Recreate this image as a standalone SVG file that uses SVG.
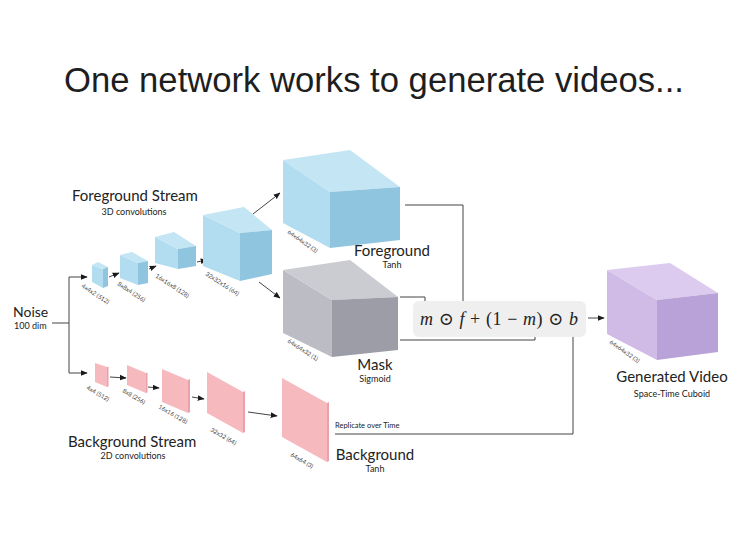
<svg xmlns="http://www.w3.org/2000/svg" width="740" height="553" viewBox="0 0 740 553">
<defs>
<marker id="ah" viewBox="0 0 10 10" refX="9" refY="5" markerWidth="7" markerHeight="7" markerUnits="userSpaceOnUse" orient="auto"><path d="M0,1 L10,5 L0,9 z" fill="#1a1a1a"/></marker>
<style>
.t{font-family:Lato,"Open Sans","Liberation Sans",sans-serif;fill:#222}
.big{font-size:15px}
.sm{font-size:9px}
.lab{font-family:Lato,"Liberation Sans",sans-serif;font-size:6px;fill:#444}
.c{stroke:#444;stroke-width:1;fill:none}
.bL{fill:#b2ddf0}.bT{fill:#c4e6f4}.bR{fill:#8fc5de}
.gL{fill:#bcbcc4}.gT{fill:#cbcbd2}.gR{fill:#9d9da8}
.pL{fill:#cfbbe5}.pT{fill:#dccbee}.pR{fill:#b9a2d8}
.k{fill:#f6b9be}.kE{fill:#e9a2a9}
.m{font-family:"Liberation Serif","DejaVu Serif",serif;font-size:18px;fill:#222}
</style>
</defs>
<rect width="740" height="553" fill="#ffffff"/>
<text x="64" y="92" font-family="Liberation Sans,Arial,sans-serif" font-size="34.5" fill="#1e1e1e" textLength="620" lengthAdjust="spacingAndGlyphs">One network works to generate videos...</text>

<g id="connectors">
<path class="c" d="M52,323 H69"/>
<path class="c" d="M69,323 V277 H87" marker-end="url(#ah)"/>
<path class="c" d="M69,323 V373 H87" marker-end="url(#ah)"/>
<path class="c" d="M109,277 L119,273" marker-end="url(#ah)"/>
<path class="c" d="M149,269 L156,266" marker-end="url(#ah)"/>
<path class="c" d="M197,262 L207,260" marker-end="url(#ah)"/>
<path class="c" d="M253,214 L280,193" marker-end="url(#ah)"/>
<path class="c" d="M259,282 L280,298" marker-end="url(#ah)"/>
<path class="c" d="M405,205 H463 V307" marker-end="url(#ah)"/>
<path class="c" d="M400,297 H425 V308" marker-end="url(#ah)"/>
<path class="c" d="M400,340 H535 V328" marker-end="url(#ah)"/>
<path class="c" d="M335,434 H573 V327" marker-end="url(#ah)"/>
<path class="c" d="M588,318 H604" marker-end="url(#ah)"/>
<path class="c" d="M110,377 L126,378" marker-end="url(#ah)"/>
<path class="c" d="M148,387 L159,388" marker-end="url(#ah)"/>
<path class="c" d="M192,397 L204,399" marker-end="url(#ah)"/>
<path class="c" d="M248,412 L277,416" marker-end="url(#ah)"/>
</g>

<g id="noise">
<text class="t" x="13" y="317" font-size="14">Noise</text>
<text class="t sm" x="14" y="329">100 dim</text>
</g>

<g id="fg-stream-label">
<text class="t big" x="72" y="201">Foreground Stream</text>
<text class="t sm" x="134" y="215" text-anchor="middle">3D convolutions</text>
</g>

<g id="fg1">
<polygon class="bL" points="92,265 103,269 103,288 92,282"/>
<polygon class="bT" points="92,265 98,262 108,267 103,269"/>
<polygon class="bR" points="103,269 108,267 108,286 103,288"/>
<text class="lab" transform="translate(81,287) rotate(33)">4x4x2 (512)</text>
</g>
<g id="fg2">
<polygon class="bL" points="120,255 138,263 138,285 120,278"/>
<polygon class="bT" points="120,255 132,252 148,261 138,263"/>
<polygon class="bR" points="138,263 148,261 148,283 138,285"/>
<text class="lab" transform="translate(117,285) rotate(33)">8x8x4 (256)</text>
</g>
<g id="fg3">
<polygon class="bL" points="155,237 178,249 178,269 155,263"/>
<polygon class="bT" points="155,237 174,232 196,246 178,249"/>
<polygon class="bR" points="178,249 196,246 196,266 178,269"/>
<text class="lab" transform="translate(155,277) rotate(33)">16x16x8 (128)</text>
</g>
<g id="fg4">
<polygon class="bL" points="203,215 240,233 240,281 203,266"/>
<polygon class="bT" points="203,215 244,207 272,230 240,233"/>
<polygon class="bR" points="240,233 272,230 272,274 240,281"/>
<text class="lab" transform="translate(205,275) rotate(33)">32x32x16 (64)</text>
</g>
<g id="foreground">
<polygon class="bL" points="283,160 330,192 330,248 283,223"/>
<polygon class="bT" points="283,160 350,150 400,187 330,192"/>
<polygon class="bR" points="330,192 400,187 400,240 330,248"/>
<text class="lab" transform="translate(287,233) rotate(35)">64x64x32 (3)</text>
<text class="t big" x="392" y="256" text-anchor="middle">Foreground</text>
<text class="t sm" x="392" y="268" text-anchor="middle">Tanh</text>
</g>
<g id="mask">
<polygon class="gL" points="283,270 332,300 332,357 283,333"/>
<polygon class="gT" points="283,270 350,260 398,297 332,300"/>
<polygon class="gR" points="332,300 398,297 398,350 332,357"/>
<text class="lab" transform="translate(287,342) rotate(33)">64x64x32 (1)</text>
<text class="t big" x="375" y="370" text-anchor="middle">Mask</text>
<text class="t sm" x="375" y="382" text-anchor="middle">Sigmoid</text>
</g>

<g id="formula">
<rect x="413" y="301" width="173" height="36" rx="6" fill="#efefef"/>
<text class="m" x="420" y="325" textLength="158" lengthAdjust="spacing"><tspan font-style="italic">m</tspan> ⊙ <tspan font-style="italic">f</tspan> + (1 − <tspan font-style="italic">m</tspan>) ⊙ <tspan font-style="italic">b</tspan></text>
</g>

<g id="generated">
<polygon class="pL" points="607,270 657,300 657,360 607,334"/>
<polygon class="pT" points="607,270 670,263 718,293 657,300"/>
<polygon class="pR" points="657,300 718,293 718,352 657,360"/>
<text class="lab" transform="translate(609,343) rotate(35)">64x64x32 (3)</text>
<text class="t big" x="672" y="382" text-anchor="middle">Generated Video</text>
<text class="t sm" x="672" y="397" text-anchor="middle">Space-Time Cuboid</text>
</g>

<g id="bg1">
<polygon class="k" points="95,363 107,367 107,387 95,382"/>
<polygon class="kE" points="107,367 108.5,366.5 108.5,386.5 107,387"/>
<text class="lab" transform="translate(86,389) rotate(30)">4x4 (512)</text>
</g>
<g id="bg2">
<polygon class="k" points="127,365 146,373 146,393 127,385"/>
<polygon class="kE" points="146,373 147.5,372.5 147.5,392.5 146,393"/>
<text class="lab" transform="translate(122,392) rotate(30)">8x8 (256)</text>
</g>
<g id="bg3">
<polygon class="k" points="162,369 188,380 188,413 162,402"/>
<polygon class="kE" points="188,380 190,379 190,412 188,413"/>
<text class="lab" transform="translate(158,408) rotate(30)">16x16 (128)</text>
</g>
<g id="bg4">
<polygon class="k" points="207,372 243,392 243,433 207,413"/>
<polygon class="kE" points="243,392 245,391 245,432 243,433"/>
<text class="lab" transform="translate(210,431) rotate(30)">32x32 (64)</text>
</g>
<g id="background">
<polygon class="k" points="282,378 327,403 327,462 282,437"/>
<polygon class="kE" points="327,403 329,402 329,461 327,462"/>
<text class="lab" transform="translate(290,456) rotate(30)">64x64 (3)</text>
<text class="t" x="335" y="428" font-size="7.5">Replicate over Time</text>
<text class="t big" x="375" y="460" text-anchor="middle">Background</text>
<text class="t sm" x="375" y="472" text-anchor="middle">Tanh</text>
</g>

<g id="bg-stream-label">
<text class="t big" x="68" y="447">Background Stream</text>
<text class="t sm" x="133" y="459" text-anchor="middle">2D convolutions</text>
</g>
</svg>
